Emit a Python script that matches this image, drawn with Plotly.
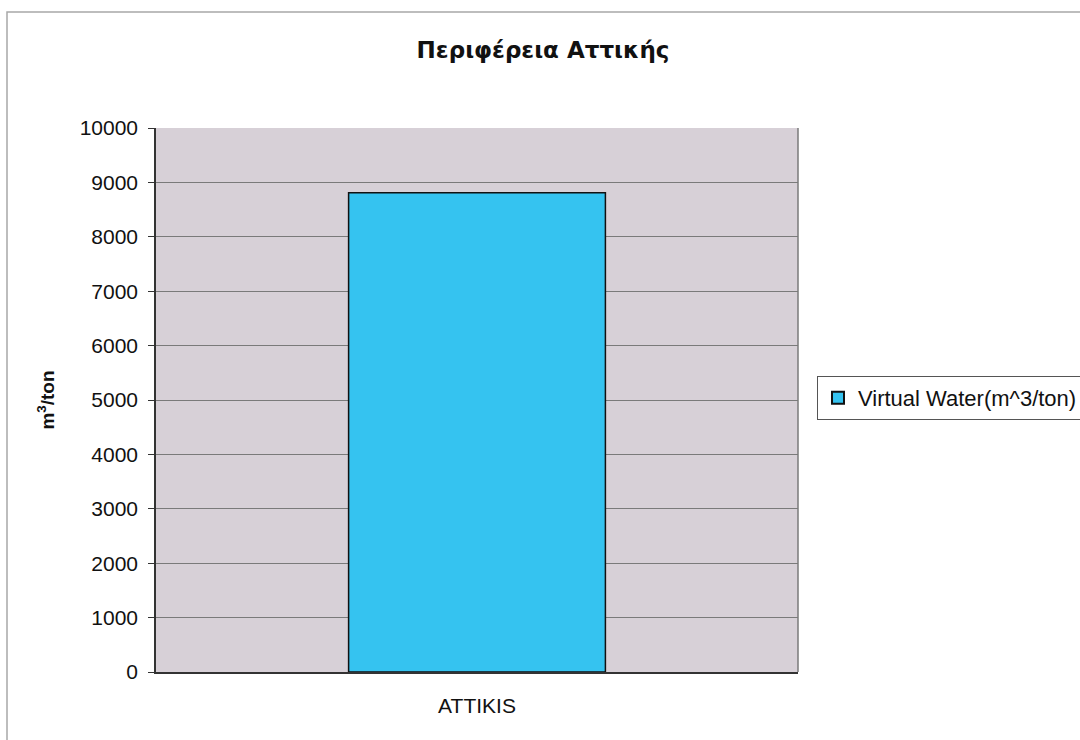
import plotly.graph_objects as go

# Data
categories = ["ATTIKIS"]
virtual_water = [8810]
series_name = "Virtual Water(m^3/ton)"
y_ticks = [0, 1000, 2000, 3000, 4000, 5000, 6000, 7000, 8000, 9000, 10000]
y_tick_labels = [str(v) for v in y_ticks]

# Plot-area geometry in pixels (used for placing the frame and legend)
W, H = 1080, 740
L, R, T, B = 156, 798, 128, 672
pw, ph = R - L, B - T


def px_x(x):
    return (x - L) / pw


def px_y(y):
    return (B - y) / ph


fig = go.Figure()
fig.add_trace(go.Bar(
    x=categories,
    y=virtual_water,
    name=series_name,
    marker=dict(color="#35c3f0", line=dict(color="#111111", width=1.5)),
    showlegend=True,
))

# Outer chart frame
fig.add_shape(type="rect", xref="paper", yref="paper",
              x0=px_x(7), x1=px_x(1090), y0=px_y(750), y1=px_y(12),
              line=dict(color="#a8a8a8", width=1.5), fillcolor="rgba(0,0,0,0)",
              layer="below")

fig.update_layout(
    width=W, height=H,
    margin=dict(l=L, r=W - R, t=T, b=H - B, pad=0, autoexpand=False),
    paper_bgcolor="white",
    plot_bgcolor="#d7d0d7",
    bargap=0.6,
    font=dict(family="Liberation Sans, Arial, sans-serif", size=21, color="#111111"),
    title=dict(text="<b>Περιφέρεια Αττικής</b>", x=543 / W, xanchor="center",
               y=1 - 50 / H, yanchor="middle",
               font=dict(size=23, family="DejaVu Sans, Arial, sans-serif", color="#111111")),
    legend=dict(x=px_x(817), xanchor="left", y=px_y(398), yanchor="middle",
                bordercolor="#555555", borderwidth=1, bgcolor="white",
                font=dict(size=22), itemsizing="constant", itemwidth=30),
    xaxis=dict(showline=True, linecolor="#333333", linewidth=1.5,
               ticks="outside", ticklen=0, ticklabelstandoff=14,
               tickfont=dict(size=21), showgrid=False),
    yaxis=dict(range=[0, 10000], tickvals=y_ticks, ticktext=y_tick_labels,
               ticks="outside", ticklen=6, ticklabelstandoff=6,
               tickcolor="#333333", showline=True, linecolor="#333333", linewidth=1.5,
               showgrid=True, gridcolor="#7a7a7a", gridwidth=1,
               tickfont=dict(size=21), zeroline=False,
               title=dict(text="<b>m<sup>3</sup>/ton</b>", font=dict(size=19), standoff=20)),
)

# Right border of the plot area
fig.add_shape(type="line", xref="paper", yref="paper", x0=1, x1=1, y0=0, y1=1,
              line=dict(color="#7a7a7a", width=1.5))

fig.write_html("out.html")
